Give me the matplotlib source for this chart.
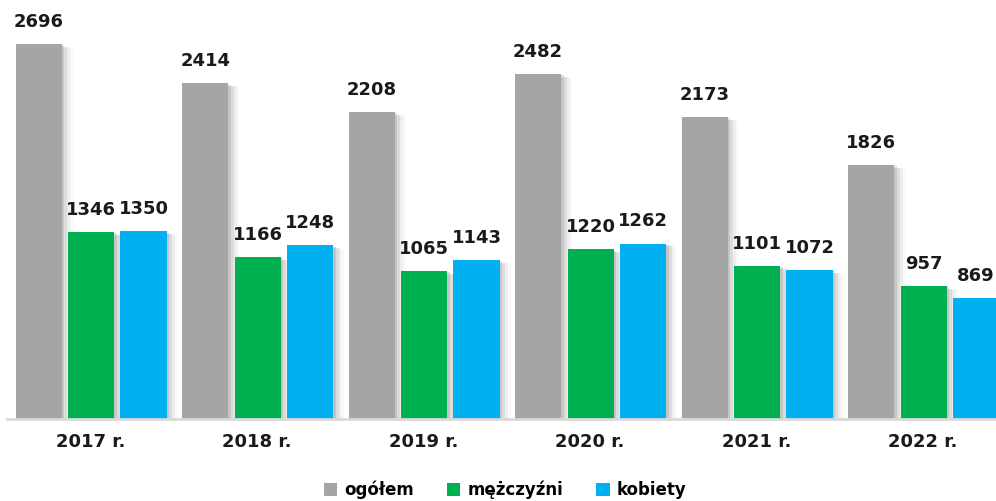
import matplotlib
matplotlib.use('Agg')
import matplotlib.pyplot as plt
import matplotlib.patheffects as pe
import numpy as np

# dane
lata = ['2017 r.', '2018 r.', '2019 r.', '2020 r.', '2021 r.', '2022 r.']
ogolem = [2696, 2414, 2208, 2482, 2173, 1826]
mezczyzni = [1346, 1166, 1065, 1220, 1101, 957]
kobiety = [1350, 1248, 1143, 1262, 1072, 869]

serie = [('ogółem', ogolem, '#A5A5A5'),
         ('mężczyźni', mezczyzni, '#00B050'),
         ('kobiety', kobiety, '#00B0F0')]

fig = plt.figure(figsize=(9.96, 5.01), dpi=100)
# os lekko wychodzi poza prawa krawedz, jak w oryginale
ax = fig.add_axes([7 / 996, (501 - 419) / 501, 999 / 996, 419 / 501])

x = np.arange(len(lata))
szer = 0.277
przes = [-0.31, 0.005, 0.32]

# rozmyty cien po prawej stronie slupka
cien = [pe.SimplePatchShadow(offset=(2, -1), shadow_rgbFace='#707070', alpha=0.22),
        pe.SimplePatchShadow(offset=(4, -2), shadow_rgbFace='#808080', alpha=0.16),
        pe.SimplePatchShadow(offset=(6, -2), shadow_rgbFace='#909090', alpha=0.10),
        pe.SimplePatchShadow(offset=(8, -3), shadow_rgbFace='#a0a0a0', alpha=0.06),
        pe.Normal()]

for (nazwa, wart, kolor), dx in zip(serie, przes):
    bary = ax.bar(x + dx, wart, szer, color=kolor, label=nazwa, zorder=2)
    for b in bary:
        b.set_path_effects(cien)
    for xi, v in zip(x + dx, wart):
        ax.text(xi, v + 95, str(v), ha='center', va='bottom', fontsize=13,
                fontweight='bold', color='#1a1a1a')

ax.set_xlim(-0.5, len(lata) - 0.5)
ax.set_ylim(0, 3013)
for s in ['top', 'right', 'left']:
    ax.spines[s].set_visible(False)
ax.spines['bottom'].set_color('#D9D9D9')
ax.spines['bottom'].set_linewidth(2)
ax.set_yticks([])
ax.set_xticks(x)
ax.set_xticklabels(lata, fontsize=13, fontweight='bold', color='#1a1a1a')
ax.tick_params(axis='x', length=0, pad=10)

fig.legend(loc='center', bbox_to_anchor=(505 / 996, 1 - 490 / 501), ncol=3, frameon=False,
           prop={'size': 12, 'weight': 'bold'}, handlelength=0.8, handleheight=0.8,
           handletextpad=0.4, columnspacing=2.0)
for h in fig.legends[0].legend_handles:
    h.set_path_effects([])

fig.savefig('out.png', dpi=100)
